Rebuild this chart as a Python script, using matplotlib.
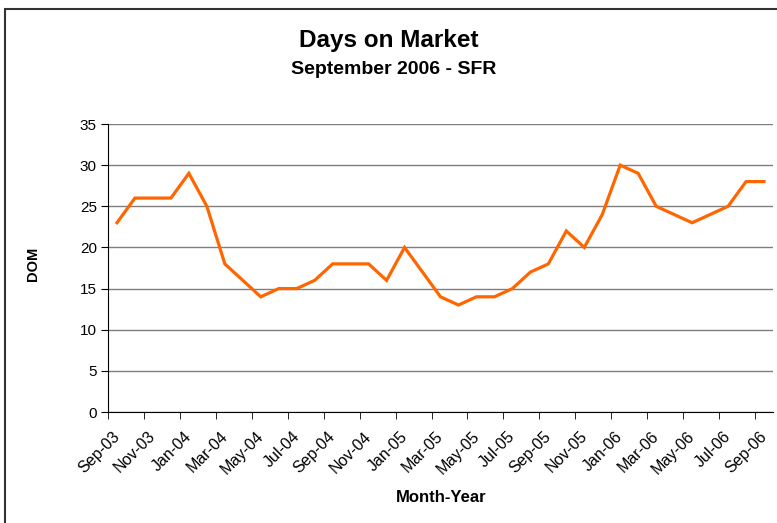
import numpy as np
import matplotlib
matplotlib.use('Agg')
from matplotlib import pyplot as plt
from matplotlib.patches import Rectangle
from matplotlib.transforms import ScaledTranslation

plt.rcParams['font.family'] = ['Liberation Sans', 'DejaVu Sans']

# monthly data, Sep-03 .. Sep-06
months = ['Sep-03', 'Oct-03', 'Nov-03', 'Dec-03', 'Jan-04', 'Feb-04', 'Mar-04', 'Apr-04',
          'May-04', 'Jun-04', 'Jul-04', 'Aug-04', 'Sep-04', 'Oct-04', 'Nov-04', 'Dec-04',
          'Jan-05', 'Feb-05', 'Mar-05', 'Apr-05', 'May-05', 'Jun-05', 'Jul-05', 'Aug-05',
          'Sep-05', 'Oct-05', 'Nov-05', 'Dec-05', 'Jan-06', 'Feb-06', 'Mar-06', 'Apr-06',
          'May-06', 'Jun-06', 'Jul-06', 'Aug-06', 'Sep-06']
dom = [23, 26, 26, 26, 29, 25, 18, 16, 14, 15, 15, 16, 18, 18, 18, 16, 20, 17, 14, 13,
       14, 14, 15, 17, 18, 22, 20, 24, 30, 29, 25, 24, 23, 24, 25, 28, 28]
y_ticks = [0, 5, 10, 15, 20, 25, 30, 35]

W, H = 777, 523
fig = plt.figure(figsize=(W / 100, H / 100), dpi=100)

# outer chart border
fig.patches.append(Rectangle((5 / W, -0.05), 1.1, 1 - 9 / H + 0.05, transform=fig.transFigure,
                             fill=False, edgecolor='#333333', linewidth=1.5))

ax = fig.add_axes([108 / W, 1 - 412 / H, (773 - 108) / W, (412 - 124) / H])

x = np.arange(len(months))
ax.plot(x, dom, color='#FF6600', linewidth=2.3, solid_joinstyle='miter')

ax.set_xlim(-0.5, len(months) - 0.5)
ax.set_ylim(0, 35)
ax.set_yticks(y_ticks)
ax.set_yticklabels([str(v) for v in y_ticks], fontsize=11)
ax.grid(axis='y', color='#7f7f7f', linewidth=1)
ax.set_axisbelow(True)

lab_idx = x[::2]
ax.set_xticks(lab_idx)
ax.set_xticklabels([months[i] for i in lab_idx], rotation=45, ha='right',
                   rotation_mode='anchor', fontsize=11.5)
ax.set_xticks(np.arange(-0.5, len(months), 2), minor=True)
ax.tick_params(axis='x', which='major', length=0, pad=12)
ax.tick_params(axis='x', which='minor', length=5, direction='out', color='black')
ax.tick_params(axis='y', length=5, direction='out', color='black', pad=3)

for s in ['top', 'right']:
    ax.spines[s].set_visible(False)
ax.spines['left'].set_color('black')
ax.spines['bottom'].set_color('black')

fig.text(0.5, 1 - 41 / H, 'Days on Market', ha='center', va='center',
         fontsize=17.5, fontweight='bold')
fig.text(394 / W, 1 - 70 / H, 'September 2006 - SFR', ha='center', va='center',
         fontsize=14, fontweight='bold')
fig.text(33 / W, 1 - 264 / H, 'DOM', ha='center', va='center', rotation=90,
         fontsize=10.5, fontweight='bold')
fig.text(441 / W, 1 - 497 / H, 'Month-Year', ha='center', va='center',
         fontsize=12, fontweight='bold')

# nudge the rotated month labels left, as in the reference
fig.canvas.draw()
shift = ScaledTranslation(-5 / 100, 0, fig.dpi_scale_trans)
for lbl in ax.get_xticklabels():
    lbl.set_transform(lbl.get_transform() + shift)

plt.savefig('out.png', dpi=100)
